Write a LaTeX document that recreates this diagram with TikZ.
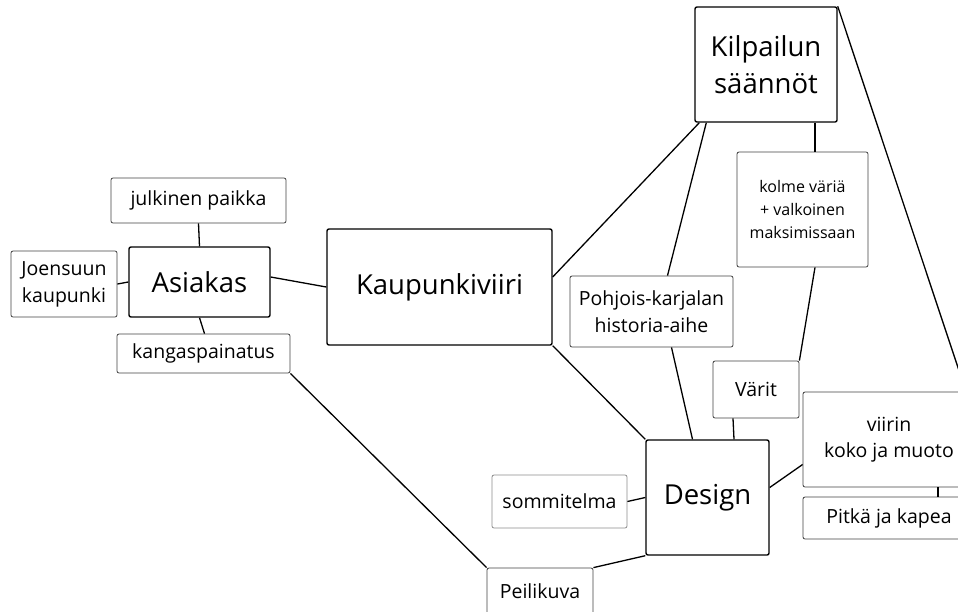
\documentclass[tikz,border=0pt]{standalone}
\usepackage{fontspec}
\setmainfont{Open Sans}
\usetikzlibrary{positioning}
\tikzstyle{bigbox} = [rectangle, draw, line width=1.4pt, rounded corners=2pt,
    align=center, font=\fontsize{27.5}{37}\selectfont]
\tikzstyle{smallbox} = [rectangle, draw=black!75, line width=0.8pt, rounded corners=2pt,
    align=center, font=\fontsize{19.5}{27}\selectfont]
\tikzstyle{line} = [draw, line width=1.3pt]

\begin{document}
\begin{tikzpicture}[x=1pt, y=-1pt]
    \useasboundingbox (0,0) rectangle (958,611);
    \clip (0,0) rectangle (958,611);
    % Place nodes
    \node [bigbox, minimum width=142pt, minimum height=115pt] (kilpailu) at (766,64.5) {Kilpailun\\säännöt};
    \node [bigbox, minimum width=225pt, minimum height=116pt] (kaupunki) at (439.5,287) {Kaupunkiviiri};
    \node [bigbox, minimum width=141pt, minimum height=70pt] (asiakas) at (199.5,282) {Asiakas};
    \node [bigbox, minimum width=123pt, minimum height=115pt] (design) at (707.5,497.5) {Design};
    \node [smallbox, minimum width=175pt, minimum height=45pt] (julkinen) at (198.5,200.5) {julkinen paikka};
    \node [smallbox, minimum width=106pt, minimum height=66pt] (joensuu) at (64,284) {Joensuun\\kaupunki};
    \node [smallbox, minimum width=173pt, minimum height=39pt] (kangas) at (203.5,353.5) {kangaspainatus};
    \node [smallbox, minimum width=106pt, minimum height=46pt] (peili) at (540,591) {Peilikuva};
    \node [smallbox, minimum width=135pt, minimum height=53pt, draw=black!45] (sommitelma) at (559.5,501.5) {sommitelma};
    \node [smallbox, minimum width=163pt, minimum height=71pt] (pohjois) at (651.5,311.5) {Pohjois-karjalan\\historia-aihe};
    \node [smallbox, minimum width=131pt, minimum height=115pt, font=\fontsize{16}{23}\selectfont] (kolme) at (802.5,209.5) {kolme väriä\\+ valkoinen\\maksimissaan};
    \node [smallbox, minimum width=86pt, minimum height=57pt] (varit) at (756,389.5) {Värit};
    \node [smallbox, minimum width=172pt, minimum height=95pt, font=\fontsize{19.5}{26}\selectfont] (viirin) at (889,439.5) {viirin\\koko ja muoto};
    \node [smallbox, minimum width=172pt, minimum height=42pt] (pitka) at (889,518) {Pitkä ja kapea};
    % Draw edges
    \path [line] (julkinen.south) -- (asiakas.north);
    \path [line] (joensuu.east) -- (asiakas.west);
    \path [line] (asiakas.south) -- ([xshift=1pt]kangas.north);
    \path [line] ([yshift=5pt]asiakas.east) -- (kaupunki.west);
    \path [line] (kangas.south east) -- (peili.north west);
    \path [line] (peili.north east) -- (design.south west);
    \path [line] (sommitelma.east) -- (design.west);
    \path [line] (kaupunki.south east) -- (design.north west);
    \path [line] ([yshift=10pt]kaupunki.east) -- ([xshift=5pt]kilpailu.south west);
    \path [line] ([xshift=12pt]kilpailu.south west) -- ([xshift=16pt]pohjois.north);
    \path [line] ([xshift=20pt]pohjois.south) -- ([xshift=-15pt]design.north);
    \path [line] ([xshift=12.5pt]kolme.north |- kilpailu.south) -- ([xshift=12.5pt]kolme.north);
    \path [line] ([xshift=12.5pt]kolme.south) -- (varit.north east);
    \path [line] ([xshift=-23pt]varit.south) -- ([xshift=-22pt]varit.south |- design.north);
    \path [line] ([yshift=10pt]design.east) -- ([yshift=-25pt]viirin.west);
    \path [line] ([xshift=49pt]viirin.south) -- ([xshift=49pt]pitka.north);
    \path [line] (kilpailu.north east) -- ([xshift=77pt]viirin.north);
\end{tikzpicture}
\end{document}
